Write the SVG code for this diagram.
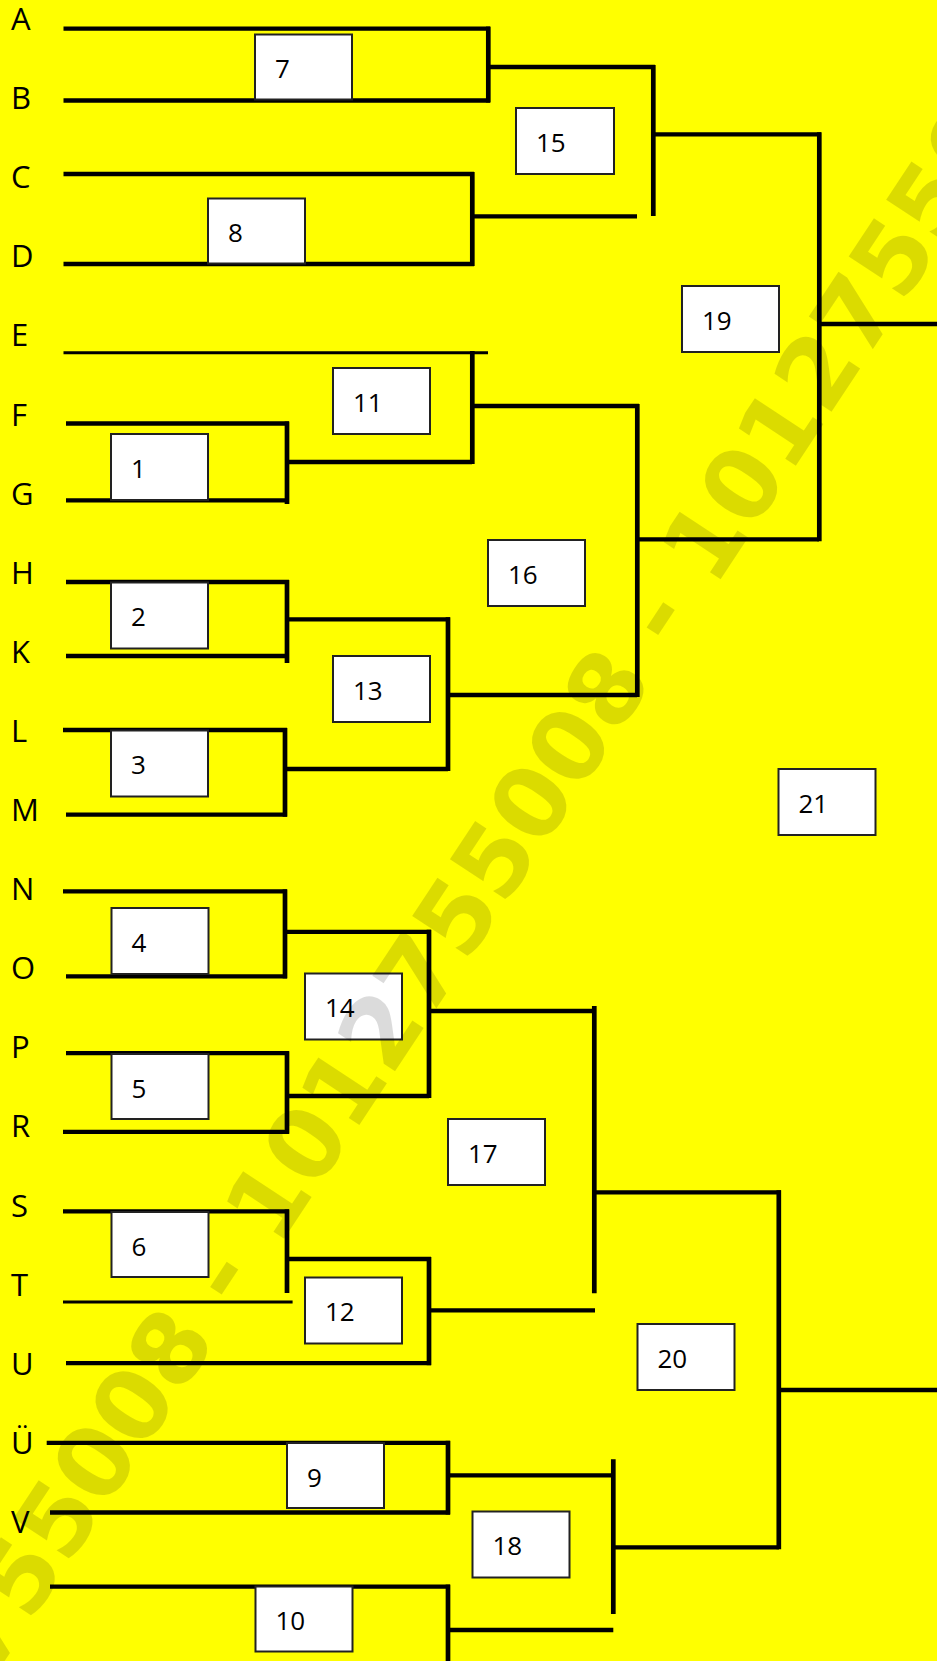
<svg xmlns="http://www.w3.org/2000/svg" width="937" height="1661" viewBox="0 0 937 1661">
<style>
.bg{fill:#ffff00}
.ln{stroke:#000;stroke-width:4.3;fill:none;stroke-linecap:butt}
.vt{stroke:#000;stroke-width:4.7;fill:none}
.thin{stroke:#000;stroke-width:3;fill:none}
.box{fill:#fff;stroke:#222;stroke-width:2}
.num{font-family:"Open Sans","Liberation Sans",sans-serif;font-size:26px;fill:#000}
.lbl{font-family:"Open Sans","Liberation Sans",sans-serif;font-size:31px;fill:#000}
.wm{font-family:"DejaVu Sans","Liberation Sans",sans-serif;font-weight:bold;font-size:98px;fill:#000;fill-opacity:0.14}
</style>
<rect class="bg" x="0" y="0" width="937" height="1661"/>

<g id="connectors">
  <!-- A/B -> 7 -->
  <line class="ln" x1="63.5" y1="28.6" x2="490" y2="28.6"/>
  <line class="ln" x1="63.5" y1="100.5" x2="490" y2="100.5"/>
  <line class="vt" x1="488.3" y1="26.6" x2="488.3" y2="102.5"/>
  <line class="ln" x1="488" y1="67" x2="655" y2="67"/>
  <line class="vt" x1="653.3" y1="65" x2="653.3" y2="216"/>
  <!-- C/D -> 8 -->
  <line class="ln" x1="63.5" y1="174" x2="474" y2="174"/>
  <line class="ln" x1="63.5" y1="264" x2="474" y2="264"/>
  <line class="vt" x1="472.3" y1="172" x2="472.3" y2="266"/>
  <line class="ln" x1="472" y1="216.4" x2="637" y2="216.4"/>
  <!-- 15 -> 19 -->
  <line class="ln" x1="653" y1="134.3" x2="821" y2="134.3"/>
  <line class="vt" x1="819.3" y1="132.3" x2="819.3" y2="541.3"/>
  <line class="ln" x1="819" y1="324" x2="937" y2="324"/>
  <!-- E, F/G -> 11 -->
  <line class="thin" x1="63.5" y1="352.7" x2="488" y2="352.7"/>
  <line class="vt" x1="472.3" y1="351" x2="472.3" y2="464"/>
  <line class="ln" x1="66" y1="423.5" x2="289" y2="423.5"/>
  <line class="ln" x1="66" y1="500.3" x2="289" y2="500.3"/>
  <line class="vt" x1="287" y1="421.5" x2="287" y2="504"/>
  <line class="ln" x1="287" y1="462" x2="472" y2="462"/>
  <line class="ln" x1="472" y1="406" x2="639" y2="406"/>
  <line class="vt" x1="637.3" y1="404" x2="637.3" y2="697"/>
  <line class="ln" x1="637" y1="539.3" x2="819" y2="539.3"/>
  <!-- H/K -> 2, L/M -> 3 -> 13 -->
  <line class="ln" x1="66" y1="582" x2="289" y2="582"/>
  <line class="ln" x1="66" y1="656" x2="289" y2="656"/>
  <line class="vt" x1="287" y1="580" x2="287" y2="663"/>
  <line class="ln" x1="287" y1="619.3" x2="450" y2="619.3"/>
  <line class="vt" x1="448" y1="617.3" x2="448" y2="771"/>
  <line class="ln" x1="63" y1="730" x2="287" y2="730"/>
  <line class="ln" x1="66" y1="814.7" x2="287" y2="814.7"/>
  <line class="vt" x1="285" y1="728" x2="285" y2="816.7"/>
  <line class="ln" x1="285" y1="769" x2="448" y2="769"/>
  <line class="ln" x1="448" y1="695" x2="637" y2="695"/>
  <!-- N/O -> 4, P/R -> 5 -> 14 -->
  <line class="ln" x1="63" y1="891.4" x2="287" y2="891.4"/>
  <line class="ln" x1="66" y1="976.4" x2="287" y2="976.4"/>
  <line class="vt" x1="285" y1="889.4" x2="285" y2="978.4"/>
  <line class="ln" x1="285" y1="931.8" x2="431" y2="931.8"/>
  <line class="vt" x1="429" y1="929.8" x2="429" y2="1098"/>
  <line class="ln" x1="66" y1="1053.2" x2="289" y2="1053.2"/>
  <line class="ln" x1="63" y1="1131.8" x2="289" y2="1131.8"/>
  <line class="vt" x1="287" y1="1051.2" x2="287" y2="1133.8"/>
  <line class="ln" x1="287" y1="1096" x2="429" y2="1096"/>
  <line class="ln" x1="429" y1="1011" x2="596" y2="1011"/>
  <line class="vt" x1="594.3" y1="1006" x2="594.3" y2="1293.3"/>
  <line class="ln" x1="594" y1="1192.3" x2="781" y2="1192.3"/>
  <line class="vt" x1="778.8" y1="1190.3" x2="778.8" y2="1549.3"/>
  <line class="ln" x1="779" y1="1390" x2="937" y2="1390"/>
  <!-- S/T -> 6, U -> 12 -->
  <line class="ln" x1="63" y1="1211.4" x2="289" y2="1211.4"/>
  <line class="vt" x1="287" y1="1209.4" x2="287" y2="1293"/>
  <line class="ln" x1="287" y1="1259" x2="431" y2="1259"/>
  <line class="thin" x1="63" y1="1302" x2="292.6" y2="1302"/>
  <line class="ln" x1="66" y1="1363.2" x2="431" y2="1363.2"/>
  <line class="vt" x1="429" y1="1257" x2="429" y2="1365.2"/>
  <line class="ln" x1="429" y1="1310.3" x2="595" y2="1310.3"/>
  <!-- Ü/V -> 9, bottom -> 10 -> 18 -->
  <line class="ln" x1="46.7" y1="1442.8" x2="450" y2="1442.8"/>
  <line class="ln" x1="50" y1="1512.5" x2="450" y2="1512.5"/>
  <line class="vt" x1="448" y1="1440.8" x2="448" y2="1514.5"/>
  <line class="ln" x1="448" y1="1475.3" x2="613.3" y2="1475.3"/>
  <line class="vt" x1="613.3" y1="1459.3" x2="613.3" y2="1614"/>
  <line class="ln" x1="613" y1="1547.3" x2="779" y2="1547.3"/>
  <line class="ln" x1="50" y1="1586.6" x2="450" y2="1586.6"/>
  <line class="vt" x1="448" y1="1584.6" x2="448" y2="1661"/>
  <line class="ln" x1="448" y1="1630" x2="613.3" y2="1630"/>
</g>

<g id="entries">
  <g id="entry-A"><text class="lbl" x="11" y="30">A</text></g>
  <g id="entry-B"><text class="lbl" x="11" y="109.1">B</text></g>
  <g id="entry-C"><text class="lbl" x="11" y="188.2">C</text></g>
  <g id="entry-D"><text class="lbl" x="11" y="267.3">D</text></g>
  <g id="entry-E"><text class="lbl" x="11" y="346.4">E</text></g>
  <g id="entry-F"><text class="lbl" x="11" y="425.5">F</text></g>
  <g id="entry-G"><text class="lbl" x="11" y="504.6">G</text></g>
  <g id="entry-H"><text class="lbl" x="11" y="583.7">H</text></g>
  <g id="entry-K"><text class="lbl" x="11" y="662.8">K</text></g>
  <g id="entry-L"><text class="lbl" x="11" y="741.9">L</text></g>
  <g id="entry-M"><text class="lbl" x="11" y="821">M</text></g>
  <g id="entry-N"><text class="lbl" x="11" y="900.1">N</text></g>
  <g id="entry-O"><text class="lbl" x="11" y="979.2">O</text></g>
  <g id="entry-P"><text class="lbl" x="11" y="1058.3">P</text></g>
  <g id="entry-R"><text class="lbl" x="11" y="1137.4">R</text></g>
  <g id="entry-S"><text class="lbl" x="11" y="1216.5">S</text></g>
  <g id="entry-T"><text class="lbl" x="11" y="1295.6">T</text></g>
  <g id="entry-U"><text class="lbl" x="11" y="1374.7">U</text></g>
  <g id="entry-UE"><text class="lbl" x="11" y="1453.8">Ü</text></g>
  <g id="entry-V"><text class="lbl" x="11" y="1532.9">V</text></g>
</g>

<g id="matches">
  <g id="m1"><rect class="box" x="111" y="434" width="97" height="66"/><text class="num" x="131" y="477.5">1</text></g>
  <g id="m2"><rect class="box" x="111" y="582.5" width="97" height="66"/><text class="num" x="131" y="626">2</text></g>
  <g id="m3"><rect class="box" x="111" y="730.5" width="97" height="66"/><text class="num" x="131" y="774">3</text></g>
  <g id="m4"><rect class="box" x="111.5" y="908" width="97" height="66"/><text class="num" x="131.5" y="951.5">4</text></g>
  <g id="m5"><rect class="box" x="111.5" y="1054" width="97" height="65"/><text class="num" x="131.5" y="1097.5">5</text></g>
  <g id="m6"><rect class="box" x="111.5" y="1212" width="97" height="65"/><text class="num" x="131.5" y="1255.5">6</text></g>
  <g id="m7"><rect class="box" x="255" y="34.5" width="97" height="65"/><text class="num" x="275" y="78">7</text></g>
  <g id="m8"><rect class="box" x="208" y="198.5" width="97" height="65"/><text class="num" x="228" y="242">8</text></g>
  <g id="m9"><rect class="box" x="287" y="1443" width="97" height="65"/><text class="num" x="307" y="1486.5">9</text></g>
  <g id="m10"><rect class="box" x="255.5" y="1586.5" width="97" height="65"/><text class="num" x="275.5" y="1630">10</text></g>
  <g id="m11"><rect class="box" x="333" y="368" width="97" height="66"/><text class="num" x="353" y="411.5">11</text></g>
  <g id="m12"><rect class="box" x="305" y="1277.5" width="97" height="66"/><text class="num" x="325" y="1321">12</text></g>
  <g id="m13"><rect class="box" x="333" y="656" width="97" height="66"/><text class="num" x="353" y="699.5">13</text></g>
  <g id="m14"><rect class="box" x="305" y="973.5" width="97" height="66"/><text class="num" x="325" y="1017">14</text></g>
  <g id="m15"><rect class="box" x="516" y="108" width="98" height="66"/><text class="num" x="536" y="151.5">15</text></g>
  <g id="m16"><rect class="box" x="488" y="540" width="97" height="66"/><text class="num" x="508" y="583.5">16</text></g>
  <g id="m17"><rect class="box" x="448" y="1119" width="97" height="66"/><text class="num" x="468" y="1162.5">17</text></g>
  <g id="m18"><rect class="box" x="472.5" y="1511.5" width="97" height="66"/><text class="num" x="492.5" y="1555">18</text></g>
  <g id="m19"><rect class="box" x="682" y="286" width="97" height="66"/><text class="num" x="702" y="329.5">19</text></g>
  <g id="m20"><rect class="box" x="637.5" y="1324" width="97" height="66"/><text class="num" x="657.5" y="1367.5">20</text></g>
  <g id="m21"><rect class="box" x="778.5" y="769" width="97" height="66"/><text class="num" x="798.5" y="812.5">21</text></g>
</g>

<g id="watermark">
  <text class="wm" x="466" y="964" text-anchor="middle" transform="rotate(-56.5 466 964)">1012755008 - 1012755008 - 1012755008</text>
</g>
</svg>
